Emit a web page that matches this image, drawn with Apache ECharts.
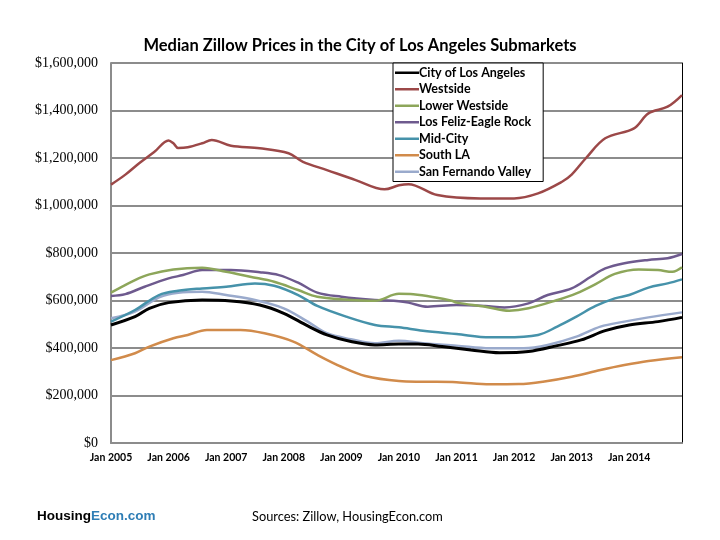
<!DOCTYPE html>
<html>
<head>
<meta charset="utf-8">
<script src="https://cdn.jsdelivr.net/npm/echarts@6/dist/echarts.min.js"></script>
<style>html,body{margin:0;padding:0;background:#fff;}#c{width:720px;height:540px;}</style>
</head>
<body>
<div id="c"></div>
<script>
// Month index 0 = Jan 2005 ... 119 = Dec 2014; values in dollars (thousands * 1000)
const seriesNames = ['City of Los Angeles','Westside','Lower Westside','Los Feliz-Eagle Rock','Mid-City','South LA','San Fernando Valley'];
const yTicks = [0,200000,400000,600000,800000,1000000,1200000,1400000,1600000];
const startYear = 2005;

const cityLA = [[0,497],[5,532],[8,567],[12,591],[19,602],[25,598],[31,581],[36,546],[41,493],[45,455],[50,427],[55,413],[60,417],[64,417],[69,406],[75,392],[81,380],[87,385],[93,410],[98,434],[103,473],[108,497],[114,511],[119,529]];
const westside = [[0,1088],[3,1130],[6,1180],[9,1225],[12,1274],[13,1262],[14,1242],[16,1245],[19,1262],[21,1276],[25,1252],[31,1241],[37,1220],[40,1184],[45,1149],[51,1107],[57,1068],[60,1085],[62,1090],[68,1044],[77,1030],[84,1030],[89,1051],[94,1100],[96,1130],[99,1200],[103,1283],[109,1325],[112,1388],[116,1416],[119,1465]];
const lowerWestside = [[0,633],[5,686],[8,710],[13,731],[19,738],[24,721],[29,700],[34,679],[39,644],[43,616],[50,602],[55,599],[60,628],[63,626],[67,615],[71,599],[72,591],[78,574],[83,557],[87,567],[93,602],[97,630],[101,669],[105,712],[110,731],[114,728],[117,721],[119,740]];
const losFeliz = [[0,619],[3,627],[7,658],[12,693],[15,707],[19,728],[25,728],[31,719],[35,707],[39,675],[43,633],[48,616],[55,602],[60,597],[62,591],[66,574],[72,581],[78,577],[82,571],[87,588],[91,623],[96,651],[100,700],[103,735],[107,757],[112,771],[116,778],[119,796]];
const midCity = [[0,511],[5,560],[10,623],[14,641],[19,651],[24,658],[30,672],[34,662],[39,623],[43,577],[49,532],[55,497],[60,487],[65,473],[72,459],[79,445],[82,445],[89,455],[93,490],[97,532],[101,577],[105,609],[108,623],[112,654],[116,672],[119,689]];
const southLA = [[0,349],[5,378],[8,406],[13,441],[16,455],[20,476],[27,476],[32,462],[38,427],[43,371],[48,321],[53,282],[60,261],[65,258],[72,256],[79,247],[85,248],[90,258],[96,279],[102,307],[107,328],[112,345],[119,361]];
const sfv = [[0,525],[5,553],[10,613],[14,633],[19,637],[24,623],[30,602],[36,567],[41,511],[45,462],[50,437],[55,420],[60,431],[65,420],[72,410],[79,399],[86,399],[91,413],[97,448],[102,490],[107,511],[112,529],[119,550]];

const allData = [cityLA, westside, lowerWestside, losFeliz, midCity, southLA, sfv];
const colors = ['#000000','#9C4848','#8DA65A','#6E5A8E','#4692AA','#D18B4B','#9AAACC'];
const widths = [3,2.5,2.5,2.5,2.5,2.5,2.5];

const chart = echarts.init(document.getElementById('c'), null, {renderer:'canvas'});
const series = seriesNames.map((n,i)=>({
  name:n, type:'line', smooth:0.35, showSymbol:false, symbol:'none',
  data: allData[i].map(p=>[p[0], p[1]*1000]),
  lineStyle:{color:colors[i], width:widths[i]}, itemStyle:{color:colors[i]},
  z: 10 - i, animation:false
}));
chart.setOption({
  animation:false,
  backgroundColor:'#fff',
  title:{text:'Median Zillow Prices in the City of Los Angeles Submarkets', left:'center', top:32,
    textStyle:{fontFamily:'Lato', fontWeight:'bold', fontSize:16.5, color:'#000'}},
  grid:{left:111, right:38, top:63, bottom:97},
  legend:{orient:'vertical', left:393, top:63, padding:[2,12,2,2], itemGap:1,
    backgroundColor:'#fff', borderColor:'#000', borderWidth:1,
    icon:'rect', itemWidth:24, itemHeight:2.5,
    textStyle:{fontFamily:'Lato', fontWeight:'bold', fontSize:12.5, color:'#000', lineHeight:15.5, padding:[0,0,0,-5]},
    data:seriesNames},
  xAxis:{type:'value', min:0, max:119, interval:12,
    axisLine:{show:true, lineStyle:{color:'#8c8c8c', width:2}},
    axisTick:{show:false}, splitLine:{show:false},
    axisLabel:{showMaxLabel:false, margin:9, fontFamily:'Lato', fontWeight:'bold', fontSize:10.5, color:'#000',
      formatter:v=>'Jan ' + (startYear + Math.round(v/12))}},
  yAxis:[{type:'value', min:yTicks[0], max:yTicks[yTicks.length-1], interval:yTicks[1]-yTicks[0],
    axisLine:{show:true, lineStyle:{color:'#8c8c8c', width:2}},
    axisTick:{show:false},
    splitLine:{show:true, lineStyle:{color:'#8c8c8c', width:2}},
    axisLabel:{margin:13, fontFamily:'Liberation Serif', fontSize:14, color:'#000',
      formatter:v=>'$' + v.toLocaleString('en-US')}},
    {type:'value', position:'right', min:0, max:1600000, interval:200000,
     axisLine:{show:true, lineStyle:{color:'#000', width:1}}, axisTick:{show:false},
     axisLabel:{show:false}, splitLine:{show:false}}],
  series:series,
  graphic:[
    {type:'text', left:37, top:509, style:{
      text:'{a|Housing}{b|Econ.com}',
      rich:{a:{fontFamily:'Liberation Sans', fontWeight:'bold', fontSize:13.5, fill:'#000'},
            b:{fontFamily:'Liberation Sans', fontWeight:'bold', fontSize:13.5, fill:'#2E7DB5'}}}},
    {type:'text', left:252, top:510, style:{text:'Sources: Zillow, HousingEcon.com',
      fontFamily:'Lato', fontSize:12.8, fill:'#000'}}
  ]
});
</script>
</body>
</html>
